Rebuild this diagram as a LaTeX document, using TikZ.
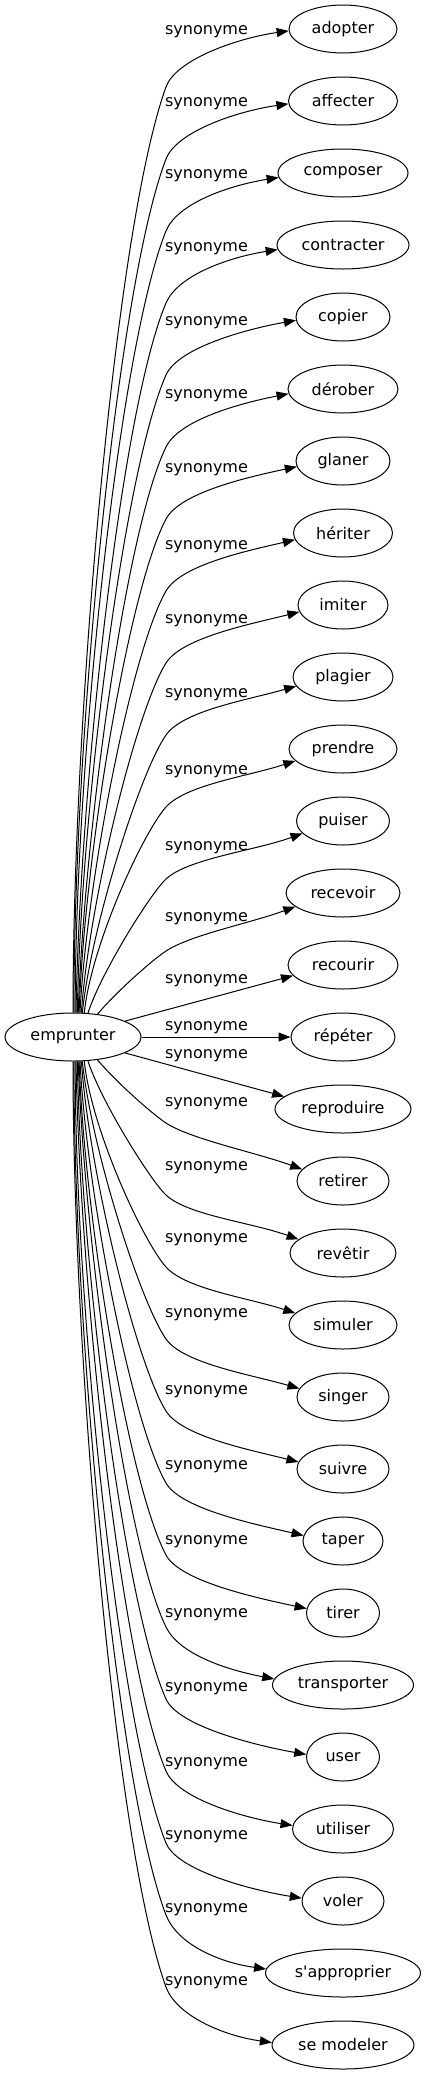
\documentclass[tikz,border=0pt]{standalone}
\usepackage{fontspec}
\setmainfont{DejaVu Sans}[Ligatures=TeXOff]
\usetikzlibrary{shapes.geometric,arrows.meta,calc}
\begin{document}
\begin{tikzpicture}[x=1pt,y=1pt,
  word/.style={draw, ellipse, line width=1pt, minimum height=48pt, inner sep=0pt, font=\fontsize{16}{19}\selectfont},
  lab/.style={anchor=base, inner sep=0pt, font=\fontsize{16}{19}\selectfont},
  syn/.style={line width=1pt, -{Triangle[length=12pt,width=9pt]}}]
\useasboundingbox (0,0) rectangle (426,-2075);
\node[word, minimum width=136pt] (emp) at (73,-1037) {emprunter};
\foreach \i/\w/\txt in {0/108/adopter, 1/109/affecter, 2/130/composer, 3/132/contracter, 4/94/copier, 5/110/dérober, 6/94/glaner, 7/99/hériter, 8/90/imiter, 9/100/plagier, 10/108/prendre, 11/93/puiser, 12/114/recevoir, 13/110/recourir, 14/104/répéter, 15/136/reproduire, 16/92/retirer, 17/106/revêtir, 18/108/simuler, 19/92/singer, 20/92/suivre, 21/80/taper, 22/73/tirer, 23/141/transporter, 24/73/user, 25/101/utiliser, 26/82/voler, 27/155/s'approprier, 28/142/se modeler}
  \node[word, minimum width=\w pt] (t\i) at (343,{-29-72*\i}) {\txt};
\foreach \i/\L in {0/30, 1/102, 2/174, 3/247, 4/321, 5/394, 6/468, 7/545, 8/619, 9/693, 10/770, 11/846, 12/917, 13/979, 14/1026, 15/1054, 16/1102, 17/1166, 18/1238, 19/1313, 20/1390, 21/1465, 22/1540, 23/1613, 24/1687, 25/1762, 26/1835, 27/1908, 28/1981}
  \node[lab] (l\i) at (206.5,{-\L-4.5}) {synonyme};
\foreach \i/\th/\ps/\a/\pb/\b/\an/\pe/\off in {
  0/90/90/296/70/148/182/8/-58,
  1/88/90/273/69/137/183/8/-58,
  2/85/90/250/68/125/184/9/-58,
  3/83/89/227/67/114/184/9/-58,
  4/80/89/204/66/102/184/10/-58,
  5/78/88/181/64/91/185/11/-58,
  6/76/88/158/62/79/187/12/-58,
  7/74/87/135/60/68/188/13/-58,
  8/71/86/112/58/56/189/14/-58,
  9/69/84/89/55/44/191/16/-58,
  10/65/84/70/48/33/194/18/-58,
  11/58/72/43/43/21/197/20/-58,
  12/43/50/30/33/15/196/20/-58,
  16/317/-50/30/-33/15/164/-20/58,
  17/302/-72/43/-43/21/163/-20/58,
  18/295/-84/70/-48/33/166/-18/58,
  19/291/-84/89/-55/44/169/-16/58,
  20/289/-86/112/-58/56/171/-14/58,
  21/286/-87/135/-60/68/172/-13/58,
  22/284/-88/158/-62/79/173/-12/58,
  23/282/-88/181/-64/91/175/-11/58,
  24/280/-89/204/-66/102/176/-10/58,
  25/277/-89/227/-67/114/176/-9/58,
  26/275/-90/250/-68/125/176/-9/58,
  27/272/-90/273/-69/137/177/-8/58,
  28/270/-90/296/-70/148/178/-8/58}
{
  \coordinate (b\i) at ($(t\i.center)+(-177,\off)$);
  \draw[syn] (emp.\th) .. controls +(\ps:\a) and +({\pb+180}:\b) .. (b\i)
     .. controls +(\pb:30) and +({\pe+180}:50) .. (t\i.\an);
}
\draw[syn] (emp.17) -- (t13.192);
\draw[syn] (emp.east) -- (t14.west);
\draw[syn] (emp.343) -- (t15.168);
\end{tikzpicture}
\end{document}
